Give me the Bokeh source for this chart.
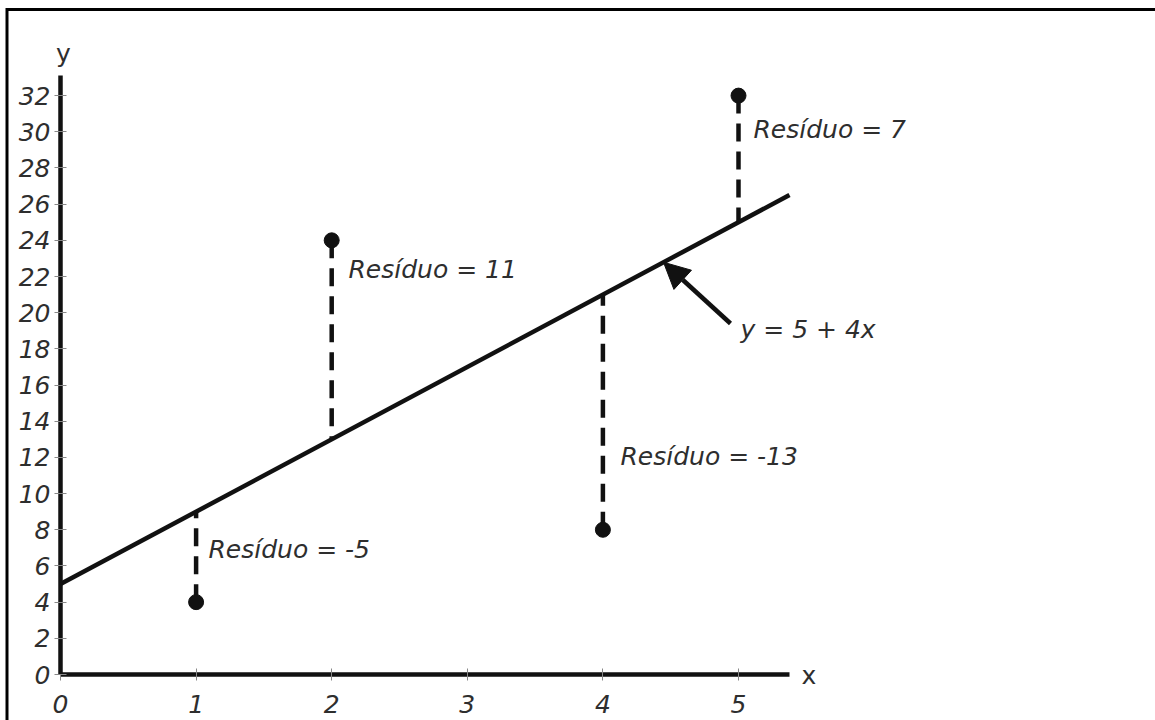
from bokeh.plotting import figure
from bokeh.models import Range1d, FixedTicker, Arrow, NormalHead
from bokeh.core.properties import value
from bokeh.embed import file_html
from bokeh.resources import INLINE

# ---- data ----
x_vals = [1, 2, 4, 5]
y_vals = [4, 24, 8, 32]
intercept = 5
slope = 4
residuals = [-5, 11, -13, 7]
x_ticks = [0, 1, 2, 3, 4, 5]
y_ticks = [0, 2, 4, 6, 8, 10, 12, 14, 16, 18, 20, 22, 24, 26, 28, 30, 32]
equation_label = "y = 5 + 4x"

# ---- layout helpers (pixel -> data mapping of the frame) ----
X0, SX = 60.0, 135.6     # pixel of x=0, pixels per x unit
Y0, SY = 674.0, 18.09    # pixel of y=0, pixels per y unit
W, H = 1155, 720

def dx(px):
    return (px - X0) / SX

def dy(py):
    return (Y0 - py) / SY

# annotation positions
res_label_x = [dx(208), dx(348), dx(620), dx(753)]
res_label_y = [dy(548.5), dy(268.5), dy(455.5), dy(128.5)]
line_x_end = dx(789)
y_axis_top = dy(75)

FONT_NAME = "DejaVu Sans"
FONT = value(FONT_NAME)
TXT = "#2e2e2e"
INK = "#111111"

p = figure(width=W, height=H, output_backend="svg", toolbar_location=None,
           x_range=Range1d(dx(0), dx(W)), y_range=Range1d(dy(H), dy(0)),
           min_border=0)
p.outline_line_color = None
p.outline_line_alpha = 0
p.grid.visible = False
p.background_fill_color = None
p.border_fill_color = None

# page frame (top and left border lines, meeting at the corner)
p.line(x=[dx(6.5), dx(6.5), dx(W + 10)], y=[dy(H + 10), dy(9), dy(9)],
       line_color="black", line_width=3, line_join="miter")

# axes
for ax in (p.xaxis[0], p.yaxis[0]):
    ax.fixed_location = 0
    ax.axis_line_width = 4.5
    ax.axis_line_color = INK
    ax.major_tick_line_color = "#888888"
    ax.major_tick_line_width = 1
    ax.major_tick_in = 6
    ax.major_tick_out = 6
    ax.minor_tick_line_color = None
    ax.major_label_text_font = FONT_NAME
    ax.major_label_text_font_style = "italic"
    ax.major_label_text_font_size = "25px"
    ax.major_label_text_color = TXT

p.xaxis.ticker = FixedTicker(ticks=x_ticks)
p.yaxis.ticker = FixedTicker(ticks=y_ticks)
p.xaxis.bounds = (0, line_x_end)
p.yaxis.bounds = (0, y_axis_top)
p.xaxis.major_label_standoff = 14
p.yaxis.major_label_standoff = 4

# regression line
lx = [0, line_x_end]
ly = [intercept + slope * v for v in lx]
p.line(lx, ly, line_width=4.5, line_color=INK)

# residual dashed segments
fitted = [intercept + slope * v for v in x_vals]
p.segment(x0=x_vals, y0=y_vals, x1=x_vals, y1=fitted, line_width=4.5,
          line_color=INK, line_dash="18 10")

# points
p.scatter(x_vals, y_vals, size=15, color=INK)

# residual labels
labels = ["Resíduo = %d" % r for r in residuals]
p.text(x=res_label_x, y=res_label_y, text=labels, text_font=FONT,
       text_font_style="italic", text_font_size="25px", text_color=TXT,
       text_baseline="middle", text_align="left")

# equation label + arrow
p.text(x=[dx(740)], y=[dy(329)], text=[equation_label], text_font=FONT,
       text_font_style="italic", text_font_size="25px", text_color=TXT,
       text_baseline="middle", text_align="left")
arrow_end_x = dx(663)
p.add_layout(Arrow(end=NormalHead(size=26, fill_color=INK, line_color=INK),
                   x_start=dx(730), y_start=dy(323),
                   x_end=arrow_end_x, y_end=intercept + slope * arrow_end_x,
                   line_width=4.5, line_color=INK))

# axis names
p.text(x=[dx(63)], y=[dy(53)], text=["y"], text_font=FONT, text_font_size="25px",
       text_color=TXT, text_baseline="alphabetic", text_align="center")
p.text(x=[dx(801)], y=[dy(675)], text=["x"], text_font=FONT, text_font_size="25px",
       text_color=TXT, text_baseline="alphabetic", text_align="left")

open("out.html", "w").write(file_html(p, INLINE))
